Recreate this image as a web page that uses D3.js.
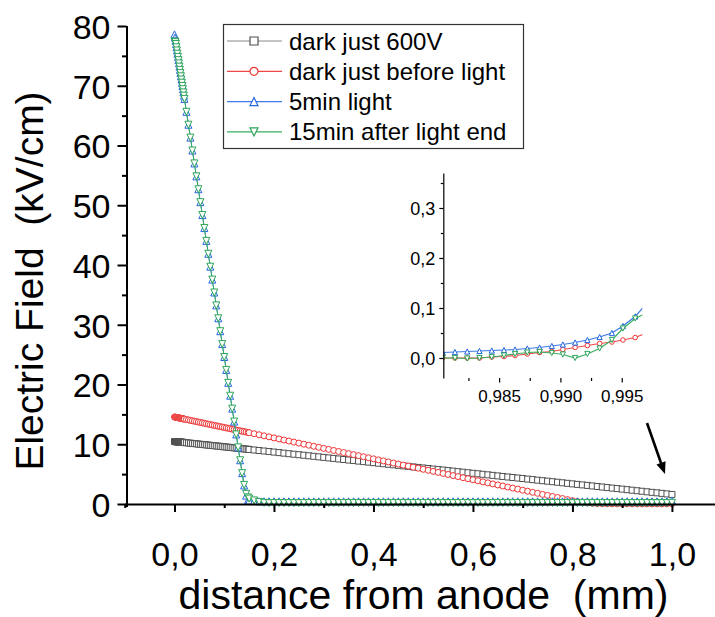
<!DOCTYPE html>
<html><head><meta charset="utf-8">
<script src="https://cdn.jsdelivr.net/npm/d3@7"></script>
<style>
body{margin:0;background:#fff}
svg{display:block}
text{font-family:Arial,"Liberation Sans",sans-serif;fill:#000}
</style>
</head><body>
<svg id="chart" width="715" height="617"></svg>
<script>
// ---------- DATA ----------
const distance = [0,0.001,0.002,0.003,0.004,0.005,0.006,0.007,0.008,0.009,0.01,0.011,0.012,0.013,0.014,0.015,0.016,0.017,0.018,0.019,0.02,
0.024,0.028,0.032,0.036,0.04,0.044,0.048,0.052,0.056,0.06,0.064,0.068,0.072,0.076,0.08,0.084,0.088,0.092,0.096,0.1,0.104,0.108,0.112,0.116,0.12,0.124,0.128,0.132,0.136,0.14,0.144,0.148,
0.15,0.16,0.17,0.18,0.19,0.2,0.21,0.22,0.23,0.24,0.25,0.26,0.27,0.28,0.29,0.3,0.31,0.32,0.33,0.34,0.35,0.36,0.37,0.38,0.39,0.4,0.41,0.42,0.43,0.44,0.45,0.46,0.47,0.48,0.49,0.5,0.51,0.52,0.53,0.54,0.55,0.56,0.57,0.58,0.59,0.6,0.61,0.62,0.63,0.64,0.65,0.66,0.67,0.68,0.69,0.7,0.71,0.72,0.73,0.74,0.75,0.76,0.77,0.78,0.79,0.8,0.81,0.82,0.83,0.84,0.85,0.86,0.87,0.88,0.89,0.9,0.91,0.92,0.93,0.94,0.95,0.96,0.97,0.98,0.99,1.0];

const dark600V = [10.46,10.45,10.44,10.43,10.42,10.42,10.41,10.40,10.39,10.38,10.37,10.36,10.35,10.34,10.34,10.33,10.32,10.31,10.30,10.29,10.28,
10.25,10.21,10.18,10.14,10.11,10.07,10.03,10.00,9.96,9.93,9.89,9.86,9.82,9.79,9.75,9.72,9.68,9.65,9.61,9.57,9.54,9.50,9.47,9.43,9.40,9.36,9.33,9.29,9.25,9.22,9.18,9.15,
9.13,9.04,8.95,8.87,8.78,8.69,8.60,8.51,8.42,8.33,
8.25,8.16,8.07,7.98,7.89,7.80,7.71,7.63,7.54,7.45,
7.36,7.27,7.18,7.09,7.01,6.92,6.83,6.74,6.65,6.56,
6.47,6.38,6.30,6.21,6.12,6.03,5.94,5.85,5.76,5.68,
5.59,5.50,5.41,5.32,5.23,5.14,5.06,4.97,4.88,4.79,
4.70,4.61,4.52,4.44,4.35,4.26,4.17,4.08,3.99,3.90,
3.82,3.73,3.64,3.55,3.46,3.37,3.28,3.20,3.11,3.02,
2.93,2.84,2.75,2.66,2.58,2.49,2.40,2.31,2.22,2.13,
2.04,1.95,1.87,1.78,1.69,1.60];

const darkBeforeLight = [14.56,14.54,14.53,14.51,14.49,14.47,14.46,14.44,14.42,14.40,14.39,14.37,14.35,14.33,14.32,14.30,14.28,14.26,14.25,14.23,14.21,
14.14,14.07,14.00,13.93,13.86,13.79,13.72,13.65,13.58,13.51,13.44,13.37,13.30,13.23,13.16,13.09,13.02,12.95,12.88,12.81,12.74,12.67,12.60,12.53,12.46,12.39,12.32,12.25,12.18,12.11,12.04,11.97,
11.94,11.76,11.59,11.41,11.24,11.06,10.89,10.71,10.54,10.36,
10.19,10.01,9.84,9.66,9.49,9.31,9.14,8.96,8.79,8.61,
8.44,8.26,8.09,7.91,7.74,7.56,7.39,7.21,7.04,6.86,
6.69,6.51,6.34,6.16,5.99,5.81,5.64,5.46,5.29,5.11,
4.94,4.76,4.59,4.41,4.24,4.06,3.89,3.71,3.54,3.36,
3.19,3.01,2.84,2.66,2.49,2.31,2.14,1.96,1.79,1.61,
1.44,1.26,1.09,0.91,0.74,0.56,0.42,0.30,0.20,0.12,
0.07,0.05,0.04,0.04,0.03,0.03,0.03,0.03,0.03,0.02,
0.02,0.02,0.02,0.02,0.03,0.05];

const light5min = [78.60,78.06,77.52,76.98,76.44,75.90,75.36,74.82,74.28,73.74,73.20,72.66,72.12,71.58,71.04,70.50,69.96,69.42,68.88,68.34,67.80,
65.64,63.48,61.32,59.16,57.00,54.84,52.68,50.52,48.36,46.20,44.04,41.88,39.72,37.56,35.40,33.24,31.08,28.92,26.76,24.60,22.44,20.28,18.12,15.96,13.80,11.64,9.48,7.32,5.16,3.10,1.40,0.70,
0.55,0.48,0.45,0.45,0.45,0.45,0.45,0.45,0.45,0.45,
0.45,0.45,0.45,0.45,0.45,0.45,0.45,0.45,0.45,0.45,
0.45,0.45,0.45,0.45,0.45,0.45,0.45,0.45,0.45,0.45,
0.45,0.45,0.45,0.45,0.45,0.45,0.45,0.45,0.45,0.45,
0.45,0.45,0.45,0.45,0.45,0.45,0.45,0.45,0.45,0.45,
0.45,0.45,0.45,0.45,0.45,0.45,0.45,0.45,0.45,0.45,
0.45,0.45,0.45,0.45,0.45,0.45,0.45,0.45,0.45,0.45,
0.45,0.45,0.45,0.45,0.45,0.45,0.45,0.45,0.45,0.45,
0.45,0.45,0.45,0.45,0.45,0.60];

const after15min = [77.40,77.35,77.30,76.98,76.44,75.90,75.36,74.82,74.28,73.74,73.20,72.66,72.12,71.58,71.04,70.50,69.96,69.42,68.88,68.34,67.80,
65.64,63.48,61.32,59.16,57.00,54.84,52.68,50.52,48.36,46.20,44.04,41.88,39.72,37.56,35.40,33.24,31.08,28.92,26.76,24.60,22.44,20.28,18.12,15.96,13.80,11.64,9.48,7.32,5.16,3.20,1.70,1.10,
0.90,0.60,0.35,0.20,0.15,0.15,0.15,0.15,0.15,0.15,
0.15,0.15,0.15,0.15,0.15,0.15,0.15,0.15,0.15,0.15,
0.15,0.15,0.15,0.15,0.15,0.15,0.15,0.15,0.15,0.15,
0.15,0.15,0.15,0.15,0.15,0.15,0.15,0.15,0.15,0.15,
0.15,0.15,0.15,0.15,0.15,0.15,0.15,0.15,0.15,0.15,
0.15,0.15,0.15,0.15,0.15,0.15,0.15,0.15,0.15,0.15,
0.15,0.15,0.15,0.15,0.15,0.15,0.15,0.15,0.15,0.15,
0.15,0.15,0.15,0.15,0.15,0.15,0.15,0.15,0.15,0.15,
0.15,0.15,0.15,0.15,0.15,0.20];

// inset (zoom near the cathode)
const insetDistance = [0.9804,0.9814,0.9824,0.9834,0.9844,0.9854,0.9863,0.9873,0.9883,0.9893,0.9902,0.9912,0.9922,0.9932,0.9942,0.9951,0.9961,0.9971];
const insetBeforeLight = [0.000,0.000,0.000,0.000,0.002,0.003,0.005,0.008,0.011,0.013,0.017,0.021,0.025,0.029,0.032,0.036,0.041,0.051];
const insetLight5min = [0.011,0.012,0.013,0.014,0.015,0.016,0.017,0.019,0.021,0.024,0.027,0.031,0.036,0.042,0.050,0.064,0.083,0.111];
const insetAfter15min = [0.000,0.000,-0.001,0.000,0.002,0.005,0.008,0.011,0.012,0.010,0.007,0.000,0.008,0.019,0.036,0.059,0.079,0.091];

const seriesNames = ["dark just 600V","dark just before light","5min light","15min after light end"];
const xTickValues = [0,0.2,0.4,0.6,0.8,1.0];
const xMinorValues = [-0.1,0.1,0.3,0.5,0.7,0.9];
const yTickValues = [0,10,20,30,40,50,60,70,80];
const yMinorValues = [5,15,25,35,45,55,65,75];
const insetXTicks = [0.985,0.990,0.995];
const insetXMinor = [0.9825,0.9875,0.9925];
const insetYTicks = [0,0.1,0.2,0.3];
const insetYMinor = [0.05,0.15,0.25,0.35];

// ---------- STYLES ----------
const styles = [
  {line:"#8a8a8a", marker:"#505050", shape:"square"},
  {line:"#f04848", marker:"#ee3535", shape:"circle"},
  {line:"#3c7ae6", marker:"#2466e0", shape:"up"},
  {line:"#3aae62", marker:"#2ea55a", shape:"down"}
];

function markerPath(shape, s){
  const h = s/2;
  if (shape==="square") return `M${-h},${-h}h${s}v${s}h${-s}Z`;
  if (shape==="circle") return `M${h},0A${h},${h} 0 1,1 ${-h},0A${h},${h} 0 1,1 ${h},0Z`;
  if (shape==="up") return `M0,${-h}L${h},${h}L${-h},${h}Z`;
  return `M0,${h}L${h},${-h}L${-h},${-h}Z`;
}

const svg = d3.select("#chart");
const fmt = v => d3.format(".1f")(v).replace(".", ",");
const fmt3 = v => d3.format(".3f")(v).replace(".", ",");

// ---------- MAIN PLOT ----------
const x = d3.scaleLinear().domain([-0.1, 1.09]).range([124.75, 716.7]);
const y = d3.scaleLinear().domain([0, 80]).range([504, 26]);
const yAxisX = 126.5;

function drawSeries(g, xs, ys, xs_, ys_, st, size, lw){
  const pts = xs.map((v,i)=>[xs_(v), ys_(ys[i])]);
  g.append("path").attr("d", d3.line()(pts)).attr("fill","none")
    .attr("stroke", st.line).attr("stroke-width", lw);
  g.selectAll(null).data(pts).join("path")
    .attr("transform", d=>`translate(${d[0]},${d[1]})`)
    .attr("d", markerPath(st.shape, size))
    .attr("fill","#fff").attr("stroke", st.marker).attr("stroke-width", 1);
}

const plot = svg.append("g");
const mainSeries = [dark600V, darkBeforeLight, light5min, after15min];
mainSeries.forEach((vals,i)=>{
  const size = styles[i].shape==="square" ? 6 : (styles[i].shape==="circle" ? 6 : 7);
  drawSeries(plot.append("g"), distance, vals, x, y, styles[i], size, 1);
});

// axes
const xAxis = svg.append("g").attr("transform", `translate(0,${y(0)})`)
  .call(d3.axisBottom(x).tickValues(xTickValues).tickSize(8).tickSizeOuter(0).tickFormat(fmt));
xAxis.select(".domain").attr("stroke-width", 2);
xAxis.selectAll(".tick line").attr("stroke-width", 2);
xAxis.selectAll(".tick text").attr("y", 62).attr("dy", null).style("font-size","34px");
svg.append("g").attr("transform", `translate(0,${y(0)})`)
  .call(d3.axisBottom(x).tickValues(xMinorValues).tickSize(4).tickFormat(""))
  .call(g=>g.select(".domain").remove())
  .selectAll(".tick line").attr("stroke-width", 2);

const yAxis = svg.append("g").attr("transform", `translate(${yAxisX},0)`)
  .call(d3.axisLeft(y).tickValues(yTickValues).tickSize(9).tickSizeOuter(0).tickPadding(7));
yAxis.select(".domain").attr("stroke-width", 2).attr("d", `M0.5,${y(80)}V${y(0)+3}`);
yAxis.selectAll(".tick line").attr("stroke-width", 2);
yAxis.selectAll(".tick text").attr("dy", "0.36em").attr("x", -16).style("font-size","34px");
svg.append("g").attr("transform", `translate(${yAxisX},0)`)
  .call(d3.axisLeft(y).tickValues(yMinorValues).tickSize(4.5).tickFormat(""))
  .call(g=>g.select(".domain").remove())
  .selectAll(".tick line").attr("stroke-width", 2);

// axis titles
svg.append("text").attr("x", 423.5).attr("y", 609).attr("text-anchor","middle")
  .style("font-size","41px").style("white-space","pre").text("distance from anode  (mm)");
svg.append("text").attr("transform","translate(43,281) rotate(-90)").attr("text-anchor","middle")
  .style("font-size","39px").style("white-space","pre").text("Electric Field  (kV/cm)");

// ---------- LEGEND ----------
const legend = svg.append("g");
legend.append("rect").attr("x",223.5).attr("y",24.5).attr("width",300).attr("height",124)
  .attr("fill","#fff").attr("stroke","#333").attr("stroke-width",1.2);
seriesNames.forEach((name,i)=>{
  const cy = 41 + i*30.3;
  legend.append("line").attr("x1",227).attr("x2",282).attr("y1",cy).attr("y2",cy)
    .attr("stroke", styles[i].line).attr("stroke-width",1.2);
  legend.append("path").attr("transform",`translate(254,${cy})`)
    .attr("d", markerPath(styles[i].shape, 8)).attr("fill","#fff")
    .attr("stroke", styles[i].marker).attr("stroke-width",1.2);
  legend.append("text").attr("x",289).attr("y",cy+8.5).style("font-size","24px").text(name);
});

// ---------- INSET ----------
const xi = d3.scaleLinear().domain([0.98045, 0.99668]).range([443.3, 642.3]);
const yi = d3.scaleLinear().domain([-0.04, 0.37]).range([378, 173]);
svg.append("clipPath").attr("id","insetClip").append("rect")
  .attr("x",443.3).attr("y",173).attr("width",199).attr("height",205);
const inset = svg.append("g").attr("clip-path","url(#insetClip)");
[[insetBeforeLight,1],[insetLight5min,2],[insetAfter15min,3]].forEach(([vals,i])=>{
  const size = styles[i].shape==="circle" ? 4.6 : 5.2;
  drawSeries(inset.append("g"), insetDistance, vals, xi, yi, styles[i], size, 1.2);
});
const iy = svg.append("g").attr("transform","translate(443.3,0)")
  .call(d3.axisLeft(yi).tickValues(insetYTicks).tickSize(4).tickSizeOuter(0).tickPadding(4).tickFormat(fmt));
iy.select(".domain").attr("stroke-width",1.2);
iy.selectAll(".tick line").attr("stroke-width",1.2);
iy.selectAll(".tick text").attr("dy","0.36em").style("font-size","18px");
svg.append("g").attr("transform","translate(443.3,0)")
  .call(d3.axisLeft(yi).tickValues(insetYMinor).tickSize(2.5).tickFormat(""))
  .call(g=>g.select(".domain").remove())
  .selectAll(".tick line").attr("stroke-width",1.2);
const ix = svg.append("g").attr("transform","translate(0,378)")
  .call(d3.axisBottom(xi).tickValues(insetXTicks).tickSize(4.5).tickFormat(fmt3));
ix.select(".domain").remove();
ix.selectAll(".tick line").attr("stroke-width",1.2);
ix.selectAll(".tick text").attr("y",24).attr("dy",null).style("font-size","17px");
svg.append("g").attr("transform","translate(0,378)")
  .call(d3.axisBottom(xi).tickValues(insetXMinor).tickSize(3).tickFormat(""))
  .call(g=>g.select(".domain").remove())
  .selectAll(".tick line").attr("stroke-width",1.2);

// ---------- ARROW ----------
const arrow = svg.append("g");
arrow.append("line").attr("x1",647).attr("y1",423).attr("x2",661).attr("y2",463)
  .attr("stroke","#000").attr("stroke-width",2.6);
arrow.append("path").attr("d","M665,474L656.5,464.5L665.5,461.2Z").attr("fill","#000");
</script>
</body></html>
